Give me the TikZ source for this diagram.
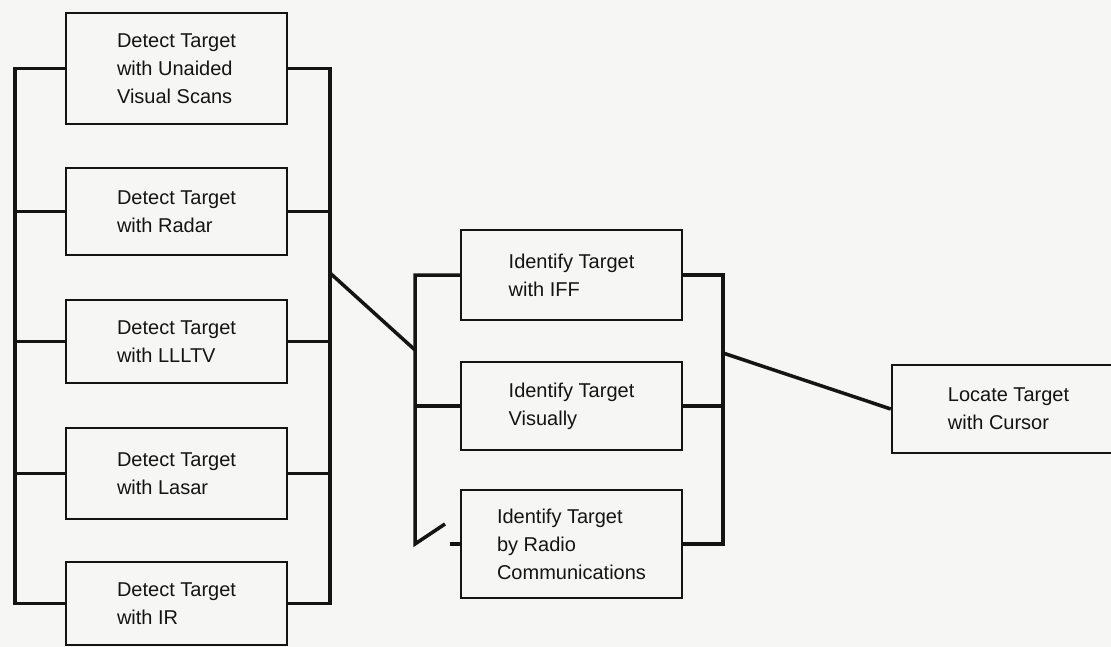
\documentclass[tikz,border=0pt]{standalone}
\usepackage{fontspec}
\setmainfont{Liberation Sans}
\usepackage{xcolor}
\definecolor{paper}{RGB}{246,246,244}
\definecolor{ink}{RGB}{20,20,20}
\usetikzlibrary{positioning}

\begin{document}
\begin{tikzpicture}[x=1pt, y=-1pt,
    taskbox/.style={draw=ink, text=ink, line width=2.5pt, minimum width=221pt,
                    align=left, inner sep=0pt, font=\fontsize{20}{28}\selectfont},
    bus/.style={draw=ink, line width=3.5pt}]
  \fill[paper] (0,0) rectangle (1111,647);
  \useasboundingbox (0,0) rectangle (1111,647);

  % Detection tasks (left column)
  \node[taskbox, minimum height=111pt] (d1) at (176.5,68.5)  {Detect Target\\with Unaided\\Visual Scans};
  \node[taskbox, minimum height=87pt]  (d2) at (176.5,211.5) {Detect Target\\with Radar};
  \node[taskbox, minimum height=83pt]  (d3) at (176.5,341.5) {Detect Target\\with LLLTV};
  \node[taskbox, minimum height=91pt]  (d4) at (176.5,473.5) {Detect Target\\with Lasar};
  \node[taskbox, minimum height=83pt]  (d5) at (176.5,603.5) {Detect Target\\with IR};

  % Parallel buses round the detection tasks
  \coordinate (dl) at (15,0);
  \coordinate (dr) at (330,0);
  \draw[bus] (d1.west) -- (d1.west -| dl) -- (d5.west -| dl) -- (d5.west);
  \draw[bus] (d1.east) -- (d1.east -| dr) -- (d5.east -| dr) -- (d5.east);
  \foreach \n in {d2,d3,d4} {
    \draw[bus] (\n.west) -- (\n.west -| dl);
    \draw[bus] (\n.east) -- (\n.east -| dr);
  }

  % Identification tasks (middle column)
  \node[taskbox, minimum height=90pt]  (i1) at (571.5,275) {Identify Target\\with IFF};
  \node[taskbox, minimum height=88pt]  (i2) at (571.5,406) {Identify Target\\Visually};
  \node[taskbox, minimum height=108pt] (i3) at (571.5,544) {Identify Target\\by Radio\\Communications};

  \coordinate (il) at (415,0);
  \coordinate (ir) at (723,0);
  \draw[bus] (i1.west) -- (i1.west -| il) -- (i3.west -| il) -- ++(30,-20);
  \draw[bus] (i3.west) -- ++(-10,0);
  \draw[bus] (i2.west) -- (i2.west -| il);
  \draw[bus] (i1.east) -- (i1.east -| ir) -- (i3.east -| ir) -- (i3.east);
  \draw[bus] (i2.east) -- (i2.east -| ir);

  % Detect -> identify
  \coordinate (j1) at (330,273);
  \coordinate (j2) at (415,350);
  \draw[bus] (j1) -- (j2);

  % Locate task (right)
  \node[taskbox, minimum width=233pt, minimum height=88pt] (loc) at (1008.5,409) {Locate Target\\with Cursor};
  \coordinate (j3) at (723,353);
  \draw[bus] (j3) -- (loc.west);
\end{tikzpicture}
\end{document}
